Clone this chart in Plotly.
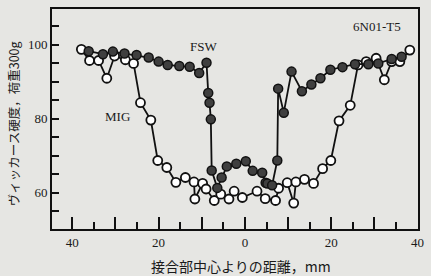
import plotly.graph_objects as go

# MIG (open circles): distance from joint centre (mm, left side negative), hardness HV
mig_x = [-37.9, -36.0, -33.9, -32.0, -30.2, -27.7, -25.8, -24.2, -21.8, -20.2, -18.1, -16.0,
         -13.8, -11.8, -11.6, -9.8, -9.0, -7.1, -5.6, -3.7, -2.5, -0.6, 2.8, 4.7, 7.1, 7.8,
         9.8, 11.3, 11.8, 13.8, 15.9, 18.0, 19.9, 21.8, 24.4, 26.2, 28.1, 30.4, 32.3, 34.0,
         35.9, 38.2]
mig_y = [98.7, 95.7, 95.7, 90.9, 96.9, 95.9, 94.9, 84.3, 79.6, 68.7, 66.8, 62.8,
         64.1, 62.9, 58.3, 62.5, 61.0, 57.9, 59.6, 58.3, 60.4, 58.7, 60.4, 58.4, 57.9, 61.2,
         62.7, 57.2, 62.9, 63.6, 62.5, 66.5, 68.7, 79.4, 83.6, 94.5, 95.4, 96.3, 90.5, 95.4,
         95.4, 98.5]

# FSW (filled circles)
fsw_x = [-36.2, -32.9, -30.6, -27.9, -25.1, -22.3, -20.0, -17.9, -15.2, -12.8, -10.6, -8.9,
         -8.5, -8.2, -7.9, -7.7, -6.4, -5.4, -4.2, -2.0, 0.2, 1.8, 4.0, 4.8, 5.2, 6.3, 7.5,
         7.7, 9.0, 10.8, 13.2, 15.4, 17.5, 19.8, 22.6, 25.5, 28.6, 30.9, 34.0, 36.3]
fsw_y = [98.2, 97.4, 98.1, 97.6, 97.2, 96.5, 95.4, 94.5, 94.2, 94.0, 92.3, 95.1,
         86.9, 84.3, 79.8, 66.0, 61.3, 64.1, 67.1, 67.8, 68.5, 65.9, 65.4, 62.7, 62.5, 62.0, 68.7,
         88.1, 81.6, 92.7, 87.4, 89.2, 90.9, 93.2, 93.9, 94.7, 94.7, 94.9, 96.1, 96.7]

x_tickvals = [-40, -30, -20, -10, 0, 10, 20, 30, 40]
x_ticktext = ["40", "", "20", "", "0", "", "20", "", "40"]
y_tickvals = [60, 80, 100]
y_ticktext = ["60", "80", "100"]

bg = "#e6e6e3"
serif = "Liberation Serif, Times New Roman, serif"
jp = "Noto Sans CJK JP"

W, H = 431, 276
ML, MR, MT, MB = 52, 11, 7, 47
plot_w = W - ML - MR
plot_h = H - MT - MB

fig = go.Figure()
fig.add_trace(go.Scatter(
    x=mig_x, y=mig_y, mode="lines+markers", name="MIG",
    line=dict(color="#111111", width=1.8),
    marker=dict(symbol="circle", size=9, color="#ffffff", line=dict(color="#111111", width=1.8)),
))
fig.add_trace(go.Scatter(
    x=fsw_x, y=fsw_y, mode="lines+markers", name="FSW",
    line=dict(color="#111111", width=1.8),
    marker=dict(symbol="circle", size=9, color="#3f3f3f", line=dict(color="#111111", width=1.5)),
))

fig.update_layout(
    width=W, height=H,
    margin=dict(l=ML, r=MR, t=MT, b=MB),
    paper_bgcolor=bg, plot_bgcolor=bg,
    showlegend=False,
    font=dict(family=serif, size=13, color="#1a1a1a"),
    xaxis=dict(
        range=[-44.7, 40.1], tickmode="array", tickvals=x_tickvals, ticktext=x_ticktext,
        ticks="inside", ticklen=12, tickwidth=1.6, tickcolor="#111111",
        minor=dict(dtick=5, tick0=0, ticks="inside", ticklen=7, tickwidth=1.6, tickcolor="#111111"),
        showgrid=False, zeroline=False,
        showline=True, linecolor="#111111", linewidth=2, mirror=True,
        tickfont=dict(family=serif, size=13),
    ),
    yaxis=dict(
        range=[50.2, 109.6], tickmode="array", tickvals=y_tickvals, ticktext=y_ticktext,
        ticks="inside", ticklen=7, tickwidth=1.6, tickcolor="#111111",
        minor=dict(dtick=5, tick0=0, ticks="inside", ticklen=7, tickwidth=1.6, tickcolor="#111111"),
        showgrid=False, zeroline=False,
        showline=True, linecolor="#111111", linewidth=2, mirror=True,
        tickfont=dict(family=serif, size=13),
    ),
    annotations=[
        dict(text="FSW", x=-9.5, y=99.5, xref="x", yref="y", showarrow=False,
             font=dict(family=serif, size=13)),
        dict(text="MIG", x=-29.5, y=80.5, xref="x", yref="y", showarrow=False,
             font=dict(family=serif, size=13)),
        dict(text="6N01-T5", x=30.5, y=105, xref="x", yref="y", showarrow=False,
             font=dict(family=serif, size=13)),
        dict(text="ヴィッカース硬度，荷重300g",
             x=(14 - ML) / plot_w, y=(H - MB - 123) / plot_h,
             xref="paper", yref="paper", xanchor="center", yanchor="middle",
             showarrow=False, textangle=-90, font=dict(family=jp, size=12.5)),
        dict(text="接合部中心よりの距離，mm",
             x=(242 - ML) / plot_w, y=(H - MB - 266) / plot_h,
             xref="paper", yref="paper", xanchor="center", yanchor="middle",
             showarrow=False, font=dict(family=jp, size=14)),
    ],
)

fig.write_html("out.html")
